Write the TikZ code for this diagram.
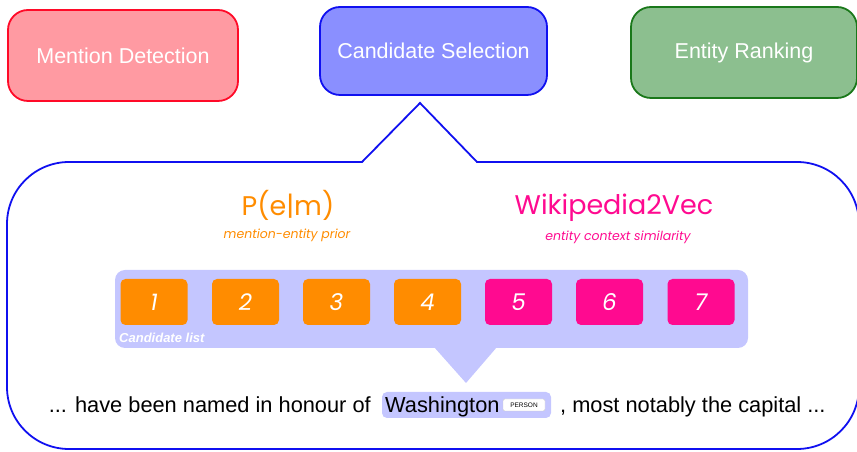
\documentclass[tikz,border=0pt]{standalone}
\usepackage{fontspec}
\setmainfont{Liberation Sans}
\newfontfamily\comicf{Poppins}
\definecolor{mdfill}{HTML}{FF9AA2}
\definecolor{mdline}{HTML}{FF0A28}
\definecolor{csfill}{HTML}{8A8FFF}
\definecolor{csline}{HTML}{1010F0}
\definecolor{erfill}{HTML}{8CBF8F}
\definecolor{erline}{HTML}{1A781A}
\definecolor{bandc}{HTML}{C4C6FF}
\definecolor{orng}{HTML}{FF8C00}
\definecolor{mgnt}{HTML}{FF0A90}
\begin{document}
\begin{tikzpicture}[x=1pt,y=1pt,
  stage/.style={draw, line width=1.8pt, rounded corners=20pt, inner sep=0pt,
    text=white, font=\fontsize{21.5}{24}\selectfont},
  cand/.style={rounded corners=5pt, inner sep=0pt, minimum width=67pt, minimum height=46pt,
    text=white, font=\comicf\itshape\fontsize{23}{24}\selectfont},
  sent/.style={inner sep=0pt, font=\fontsize{21.8}{24}\selectfont},
  bigtitle/.style={inner sep=0pt, font=\comicf\fontsize{27}{30}\selectfont},
  subtitle/.style={inner sep=0pt, font=\comicf\itshape\fontsize{12.5}{14}\selectfont}
]
\useasboundingbox (0,0) rectangle (857,452);
% stage boxes
\node[stage, fill=mdfill, draw=mdline, minimum width=230pt, minimum height=91pt] (md) at (123,396.5) {Mention Detection};
\node[stage, fill=csfill, draw=csline, minimum width=227pt, minimum height=88pt] (cs) at (433.5,401) {Candidate Selection};
\node[stage, fill=erfill, draw=erline, minimum width=226pt, minimum height=91pt] (er) at (744,399.5) {Entity Ranking};
% callout
\draw[csline, line width=1.8pt, line join=miter]
  (362,290) -- (420,349) -- (477,290) -- (797,290)
  arc[start angle=90, end angle=0, radius=62] -- (859,65)
  arc[start angle=0, end angle=-90, radius=62] -- (69,3)
  arc[start angle=270, end angle=180, radius=62] -- (7,228)
  arc[start angle=180, end angle=90, radius=62] -- cycle;
% titles
\node[bigtitle, text=orng] (pem) at (288,247) {P(e|m)};
\node[subtitle, text=orng] (pemsub) at (287,217) {mention-entity prior};
\node[bigtitle, text=mgnt] (w2v) at (614,244) {Wikipedia2Vec};
\node[subtitle, text=mgnt] (w2vsub) at (618,215) {entity context similarity};
% candidate band
\node[fill=bandc, rounded corners=10pt, minimum width=633pt, minimum height=78pt, inner sep=0pt] (band) at (431.5,143) {};
\fill[bandc] (434,105) -- (466,69) -- (497,105) -- cycle;
\node[anchor=base west, text=white, inner sep=0pt, font=\bfseries\itshape\fontsize{13}{14}\selectfont] (cl) at (119,109) {Candidate list};
\foreach \i/\x/\c in {1/154/orng,2/245.5/orng,3/336.5/orng,4/427.5/orng,5/518.5/mgnt,6/609.5/mgnt,7/701/mgnt}{
  \node[cand, fill=\c] (c\i) at (\x,150) {\i};
}
% sentence
\node[fill=bandc, rounded corners=5pt, minimum width=169pt, minimum height=26pt, inner sep=0pt] (wash) at (466.5,47) {};
\node[sent, anchor=base east] (left) at (371,39) {... have been named in honour of};
\node[sent, anchor=base west] (wt) at (385,39) {Washington};
\node[fill=white, draw=gray!40, line width=0.4pt, rounded corners=2pt, minimum width=42pt, minimum height=12pt, inner sep=0pt, font=\fontsize{6.5}{7}\selectfont] (tag) at (524,47) {PERSON};
\node[sent, anchor=base west] (right) at (560,39) {, most notably the capital ...};
\end{tikzpicture}
\end{document}
